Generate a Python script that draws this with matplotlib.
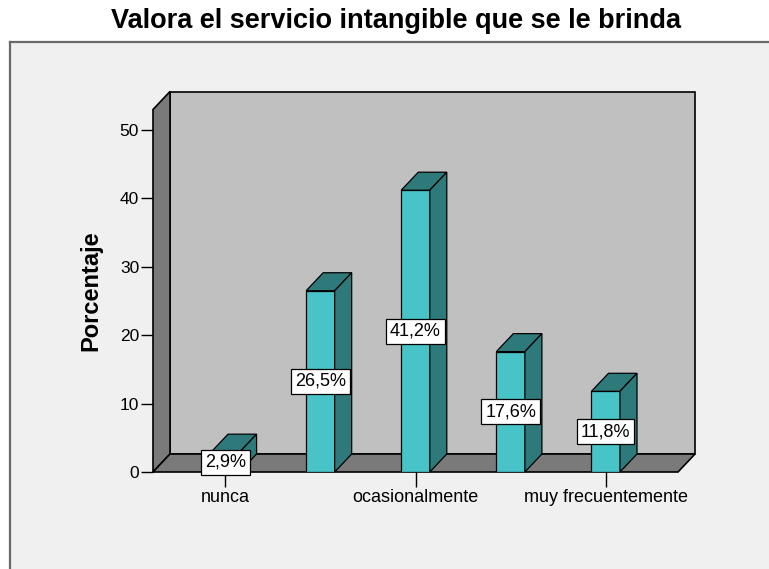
import matplotlib
matplotlib.use("Agg")
import matplotlib.pyplot as plt
from matplotlib.patches import Polygon, Rectangle

# data
categorias = ['nunca', 'casi nunca', 'ocasionalmente', 'frecuentemente', 'muy frecuentemente']
porcentajes = [2.9, 26.5, 41.2, 17.6, 11.8]
etiquetas = ['2,9%', '26,5%', '41,2%', '17,6%', '11,8%']
yticks = [0, 10, 20, 30, 40, 50]

plt.rcParams['font.family'] = ['Liberation Sans', 'DejaVu Sans']

cara = '#48c3c7'
sombra = '#2e7a7b'
fondo = '#c0c0c0'
pared = '#7a7a7a'

W, H = 769, 569
fig = plt.figure(figsize=(W / 100, H / 100), dpi=100, facecolor='white')

# outer light gray panel
fig.patches.append(Rectangle((10 / W, 0), 1, (H - 42) / H, transform=fig.transFigure,
                             facecolor='#f0f0f0', edgecolor='none', zorder=-5))
fig.add_artist(plt.Line2D([10 / W, 1], [(H - 42) / H] * 2, color='#6a6a6a', lw=1.6, zorder=-4))
fig.add_artist(plt.Line2D([10 / W, 10 / W], [0, (H - 42) / H], color='#6a6a6a', lw=1.6, zorder=-4))

fig.text(396 / W, 1 - 21 / H, 'Valora el servicio intangible que se le brinda',
         ha='center', va='center', fontsize=19.5, fontweight='bold')

ax = fig.add_axes([153 / W, (H - 472) / H, (678 - 153) / W, (472 - 109.5) / H])
ax.set_facecolor('none')
xl, xr = -0.76, 4.76
ymax = 53
ax.set_xlim(xl, xr)
ax.set_ylim(0, ymax)

# depth offset of the pseudo 3d box, in data units
dx = 17 / 95.0
dy = 18 / 6.84

# back wall, side wall and floor
ax.add_patch(Rectangle((xl + dx, dy), xr - xl, ymax, facecolor=fondo, edgecolor='black',
                       lw=1.2, zorder=1, clip_on=False))
ax.add_patch(Polygon([(xl, 0), (xl + dx, dy), (xl + dx, ymax + dy), (xl, ymax)], closed=True,
                     facecolor=pared, edgecolor='black', lw=1.2, zorder=2, clip_on=False))
ax.add_patch(Polygon([(xl, 0), (xr, 0), (xr + dx, dy), (xl + dx, dy)], closed=True,
                     facecolor=pared, edgecolor='black', lw=1.2, zorder=2, clip_on=False))

pos = list(range(len(categorias)))
barras = ax.bar(pos, porcentajes, width=0.3, color=cara, edgecolor='black', lw=0.9, zorder=4)
for b in barras:
    x0, w, h = b.get_x(), b.get_width(), b.get_height()
    ax.add_patch(Polygon([(x0, h), (x0 + w, h), (x0 + w + dx, h + dy), (x0 + dx, h + dy)],
                         closed=True, facecolor=sombra, edgecolor='black', lw=0.9,
                         zorder=4, clip_on=False))
    ax.add_patch(Polygon([(x0 + w, 0), (x0 + w + dx, dy), (x0 + w + dx, h + dy), (x0 + w, h)],
                         closed=True, facecolor=sombra, edgecolor='black', lw=0.9,
                         zorder=4, clip_on=False))

for p, v, t in zip(pos, porcentajes, etiquetas):
    ax.text(p, v / 2, t, ha='center', va='center', fontsize=13, zorder=6,
            bbox=dict(boxstyle='square,pad=0.22', facecolor='white', edgecolor='black', lw=0.9))

for s in ax.spines.values():
    s.set_visible(False)
ax.set_yticks(yticks)
ax.set_xticks(pos[::2])
ax.set_xticklabels(categorias[::2])
ax.tick_params(axis='y', direction='out', length=9, width=1, pad=1, labelsize=12.5)
ax.tick_params(axis='x', direction='out', length=11, width=1, pad=1, labelsize=13)
ax.set_ylabel('Porcentaje', fontsize=17, fontweight='bold', va='center')
ax.yaxis.set_label_coords((91 - 153) / 525, (472 - 291) / 362.5)

fig.savefig('out.png', dpi=100, facecolor=fig.get_facecolor())
